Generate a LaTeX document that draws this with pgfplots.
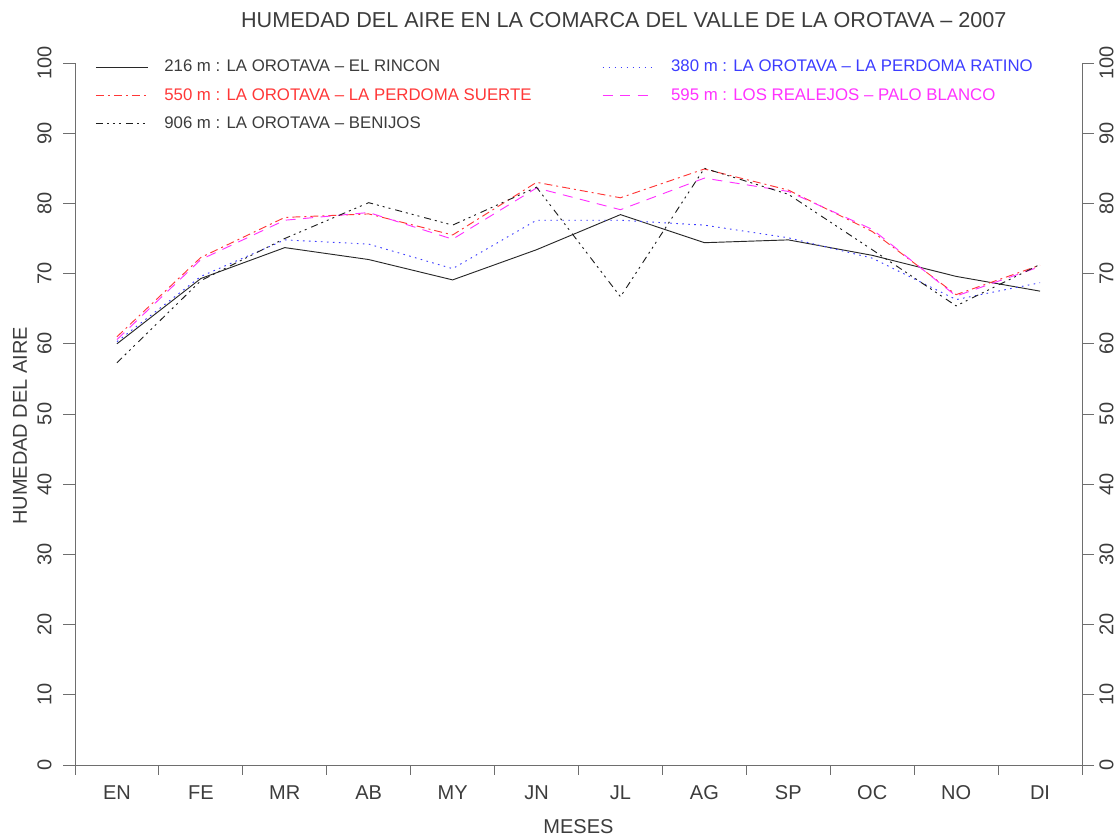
\documentclass[border=0pt]{standalone}
\usepackage{pgfplots}
\pgfplotsset{compat=1.18}
\usepackage{fontspec}
\setmainfont{Liberation Sans}
\definecolor{txt}{RGB}{60,60,60}
\definecolor{axc}{RGB}{110,110,110}
\definecolor{c216}{RGB}{40,40,40}
\definecolor{cred}{RGB}{255,55,55}
\definecolor{cblue}{RGB}{60,60,255}
\definecolor{cmag}{RGB}{255,50,255}
\definecolor{c906}{RGB}{30,30,30}
\tikzset{
  s216/.style={draw=c216, line width=0.7pt, solid},
  s380/.style={draw=cblue, line width=0.7pt, dash pattern=on 1.2pt off 3.3pt},
  s550/.style={draw=cred, line width=0.7pt, dash pattern=on 6pt off 3pt on 1.5pt off 3pt},
  s595/.style={draw=cmag, line width=0.7pt, dash pattern=on 7.5pt off 5.6pt},
  s906/.style={draw=c906, line width=0.7pt, dash pattern=on 5.25pt off 3pt on 1.5pt off 3pt on 1.5pt off 3pt on 1.5pt off 3.75pt},
}
\begin{document}
\begin{tikzpicture}
\path[use as bounding box] (-56.25pt,-54pt) rectangle (782.25pt,573.75pt);
\pgfplotsset{
  every axis/.append style={
    scale only axis, width=755.25pt, height=526.5pt,
    xmin=-0.5, xmax=11.5, ymin=0, ymax=100,
    axis line style={-, draw=axc, line width=0.7pt},
    tick style={draw=axc, line width=0.7pt},
    major tick length=9pt,
    ytick={0,10,20,30,40,50,60,70,80,90,100},
    ticklabel style={font=\fontsize{15}{18}\selectfont, text=txt},
    /pgf/number format/assume math mode=true,
  }
}
\begin{axis}[
  axis x line=bottom, axis y line=none,
  tick align=outside, xtick pos=bottom,
  clip=false,
  major tick length=7.5pt,
  x axis line style={-, shorten <=-8.25pt},
  xtick={-0.5,0.5,1.5,2.5,3.5,4.5,5.5,6.5,7.5,8.5,9.5,10.5,11.5},
  x tick label as interval,
  xticklabels={EN,FE,MR,AB,MY,JN,JL,AG,SP,OC,NO,DI},
  xticklabel style={yshift=-4.5pt},
  legend columns=2,
  legend cell align=left,
  legend style={at={(rel axis cs:0.016,1.012)}, anchor=north west, draw=none, fill=none,
    font=\fontsize{12.6}{15}\selectfont, row sep=7pt,
    /tikz/every odd column/.append style={column sep=10pt},
    /tikz/every even column/.append style={column sep=51pt}},
]
\addplot[s216, legend image code/.code={\draw[s216] (0pt,0pt) -- (39pt,0pt);}] coordinates {
(0,60.0) (1,69.3) (2,73.7) (3,72.0) (4,69.1) (5,73.4) (6,78.4) (7,74.4) (8,74.8) (9,72.6) (10,69.6) (11,67.5)};
\addlegendentry{\textcolor{txt}{216 m : LA OROTAVA -- EL RINCON}}
\addplot[s380, legend image code/.code={\draw[s380] (0pt,0pt) -- (39pt,0pt);}] coordinates {
(0,60.3) (1,69.6) (2,74.8) (3,74.2) (4,70.7) (5,77.6) (6,77.6) (7,76.9) (8,75.1) (9,72.2) (10,66.3) (11,68.7)};
\addlegendentry{\textcolor{cblue}{380 m : LA OROTAVA -- LA PERDOMA RATINO}}
\addplot[s550, legend image code/.code={\draw[s550] (0pt,0pt) -- (39pt,0pt);}] coordinates {
(0,61.0) (1,72.3) (2,78.0) (3,78.5) (4,75.5) (5,83.0) (6,80.8) (7,84.9) (8,81.9) (9,76.0) (10,67.0) (11,71.2)};
\addlegendentry{\textcolor{cred}{550 m : LA OROTAVA -- LA PERDOMA SUERTE}}
\addplot[s595, legend image code/.code={\draw[s595] (0pt,0pt) -- (39pt,0pt);}] coordinates {
(0,60.6) (1,72.0) (2,77.6) (3,78.7) (4,74.9) (5,82.2) (6,79.1) (7,83.6) (8,81.7) (9,76.3) (10,66.8) (11,71.0)};
\addlegendentry{\textcolor{cmag}{595 m : LOS REALEJOS -- PALO BLANCO}}
\addplot[s906, legend image code/.code={\draw[s906] (0pt,0pt) -- (39pt,0pt);}] coordinates {
(0,57.3) (1,69.0) (2,75.0) (3,80.1) (4,76.9) (5,82.3) (6,66.7) (7,85.0) (8,81.3) (9,73.4) (10,65.4) (11,71.3)};
\addlegendentry{\textcolor{txt}{906 m : LA OROTAVA -- BENIJOS}}
\node[text=txt, font=\fontsize{16.2}{19}\selectfont] at (rel axis cs:0.545,1.0613) {HUMEDAD DEL AIRE EN LA COMARCA DEL VALLE DE LA OROTAVA -- 2007};
\node[text=txt, font=\fontsize{15}{18}\selectfont] at (rel axis cs:0.5,-0.0883) {MESES};
\node[text=txt, font=\fontsize{15}{18}\selectfont, rotate=90] at (rel axis cs:-0.0546,0.483) {HUMEDAD DEL AIRE};
\end{axis}
\begin{axis}[
  axis x line=none, axis y line=left,
  y axis line style={-},
  tick align=outside, ytick pos=left,
  yticklabel shift=5pt,
  yticklabel style={rotate=90, anchor=south},
]
\end{axis}
\begin{axis}[
  axis x line=none, axis y line=right,
  y axis line style={-},
  tick align=outside, ytick pos=right,
  yticklabel shift=0.5pt,
  yticklabel style={rotate=90, anchor=north},
]
\end{axis}
\end{tikzpicture}
\end{document}
